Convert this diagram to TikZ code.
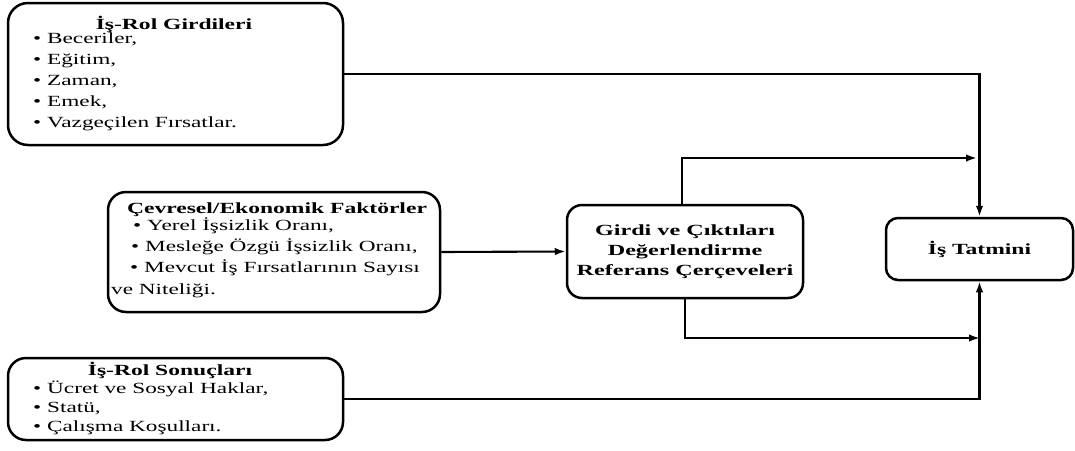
\documentclass[tikz,border=0pt]{standalone}
\usepackage{fontspec}
\setmainfont[FakeStretch=1.5]{Liberation Serif}
\newfontfamily\headfont[FakeStretch=1.52]{Liberation Serif}
\newfontfamily\reffont[FakeStretch=1.56]{Liberation Serif}
\usetikzlibrary{arrows.meta}

\begin{document}
\begin{tikzpicture}[x=1pt, y=-1pt,
  box/.style={draw, line width=2.5pt, inner sep=0pt},
  txt/.style={font=\fontsize{15.5}{18}\selectfont, inner sep=0pt},
  head/.style={font=\headfont\fontsize{15.5}{20}\selectfont\bfseries, inner sep=0pt},
  refhead/.style={font=\reffont\fontsize{15.5}{20}\selectfont\bfseries, inner sep=0pt},
  link/.style={line width=2.1pt},
  arr/.style={link, -{Latex[length=11pt,width=7.5pt]}}]
\useasboundingbox (0,0) rectangle (1075,450);

% input box
\node[box, rounded corners=20pt, minimum width=335pt, minimum height=142pt] (inbox) at (175.5,74) {};
\node[head, anchor=base] (inT) at (174,29) {İş-Rol Girdileri};
\foreach \t [count=\i] in {{Beceriler,}, {Eğitim,}, {Zaman,}, {Emek,}, {Vazgeçilen Fırsatlar.}}
  \node[txt, anchor=base west] (in\i) at (33,{22+21*\i}) {• \t};

% environmental / economic factors
\node[box, rounded corners=18pt, minimum width=332pt, minimum height=120pt] (env) at (274,252) {};
\node[head, anchor=base] (envT) at (277,213) {Çevresel/Ekonomik Faktörler};
\node[txt, anchor=base west] (env1) at (133,230) {• Yerel İşsizlik Oranı,};
\node[txt, anchor=base west] (env2) at (131,251) {• Mesleğe Özgü İşsizlik Oranı,};
\node[txt, anchor=base west] (env3) at (130,272.5) {• Mevcut İş Fırsatlarının Sayısı};
\node[txt, anchor=base west] (env4) at (111,294) {ve Niteliği.};

% outcome box
\node[box, rounded corners=18pt, minimum width=335pt, minimum height=82pt] (outbox) at (175.5,399) {};
\node[head, anchor=base] (outT) at (170,375) {İş-Rol Sonuçları};
\node[txt, anchor=base west] (out1) at (33,393) {• Ücret ve Sosyal Haklar,};
\node[txt, anchor=base west] (out2) at (33,412) {• Statü,};
\node[txt, anchor=base west] (out3) at (33,431) {• Çalışma Koşulları.};

% frames of reference
\node[box, refhead, rounded corners=15pt, align=center, minimum width=236pt, minimum height=93pt] (ref) at (685,251.5)
  {Girdi ve Çıktıları\\Değerlendirme\\Referans Çerçeveleri};

% job satisfaction
\node[box, head, rounded corners=12pt, minimum width=187pt, minimum height=62pt] (sat) at (979.5,249) {İş Tatmini};

% connectors
\coordinate (topJoin) at (977,158);
\coordinate (botJoin) at (980,338);
\draw[arr] (inbox.east) -| (sat.north);
\draw[arr] (env.east) -- (ref.west);
\draw[arr] ([xshift=-3pt]ref.north) |- (topJoin);
\draw[arr] (ref.south) |- (botJoin);
\draw[arr] (outbox.east) -| (sat.south);
\end{tikzpicture}
\end{document}
